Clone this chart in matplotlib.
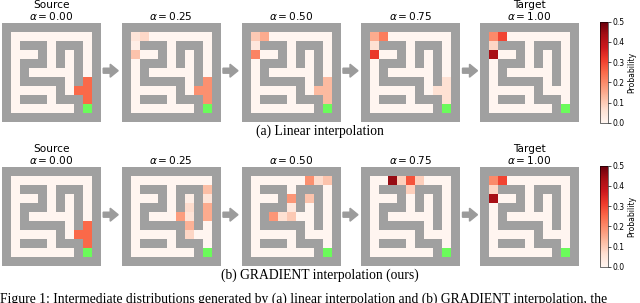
import numpy as np
import matplotlib
matplotlib.use('Agg')
from matplotlib import pyplot as plt
from matplotlib.colors import Normalize, to_rgb
from matplotlib.patches import Polygon
import matplotlib.cm as cm

# maze layout, '#' wall, '.' open, 'G' goal
maze = [
    "###########",
    "#.........#",
    "#.###.###.#",
    "#...#.#.#.#",
    "#.###.#.#.#",
    "#.#.....#.#",
    "#.#####.#.#",
    "#.....#...#",
    "#.###.###.#",
    "#.......#G#",
    "###########",
]

alphas = ['0.00', '0.25', '0.50', '0.75', '1.00']
heads = ['Source', '', '', '', 'Target']

# probability per panel: (row, col, prob)
source = [(6, 9, 0.25), (7, 8, 0.25), (7, 9, 0.25), (8, 9, 0.25)]
target = [(1, 1, 0.20), (1, 2, 0.30), (2, 1, 0.08), (3, 1, 0.43)]

linear_25 = [(6, 9, 0.19), (7, 8, 0.19), (7, 9, 0.19), (8, 9, 0.19),
             (1, 1, 0.05), (1, 2, 0.075), (2, 1, 0.02), (3, 1, 0.11)]
linear_50 = [(6, 9, 0.125), (7, 8, 0.125), (7, 9, 0.125), (8, 9, 0.125),
             (1, 1, 0.10), (1, 2, 0.15), (2, 1, 0.04), (3, 1, 0.21)]
linear_75 = [(6, 9, 0.06), (7, 8, 0.06), (7, 9, 0.06), (8, 9, 0.06),
             (1, 1, 0.15), (1, 2, 0.22), (2, 1, 0.06), (3, 1, 0.32)]

grad_25 = [(2, 9, 0.12), (3, 9, 0.05), (4, 9, 0.15), (5, 9, 0.15),
           (3, 7, 0.02), (4, 7, 0.07), (5, 6, 0.17), (5, 7, 0.05),
           (6, 7, 0.14), (7, 7, 0.08)]
grad_50 = [(1, 7, 0.19), (1, 8, 0.07), (1, 9, 0.11), (3, 7, 0.11),
           (3, 5, 0.18), (4, 5, 0.04), (5, 3, 0.18), (5, 4, 0.06),
           (5, 5, 0.10)]
grad_75 = [(1, 3, 0.45), (1, 4, 0.09), (1, 5, 0.28), (1, 6, 0.09),
           (2, 5, 0.09)]

rows = [
    [source, linear_25, linear_50, linear_75, target],
    [source, grad_25, grad_50, grad_75, target],
]
captions = ['(a) Linear interpolation', '(b) GRADIENT interpolation (ours)']
footer = ('Figure 1: Intermediate distributions generated by (a) linear interpolation '
          'and (b) GRADIENT interpolation, the')

W, H = 640, 303
cmap = plt.get_cmap('Reds')
norm = Normalize(0, 0.5)
wall = to_rgb('#a0a0a0')
goal = to_rgb('#6bfb5b')


def maze_img(probs):
    n = len(maze)
    img = np.zeros((n, n, 3))
    for r in range(n):
        for c in range(n):
            ch = maze[r][c]
            if ch == '#':
                img[r, c] = wall
            elif ch == 'G':
                img[r, c] = goal
            else:
                img[r, c] = cmap(norm(0))[:3]
    for r, c, p in probs:
        img[r, c] = cmap(norm(p))[:3]
    return img


def px_axes(x, y, w, h):
    return fig.add_axes([x / W, 1 - (y + h) / H, w / W, h / H])


def px_text(x, y, s, **kw):
    return fig.text(x / W, 1 - y / H, s, **kw)


def arrow(x0, yc):
    # block arrow in pixel coords
    pts = [(x0, yc - 2.5), (x0 + 7, yc - 2.5), (x0 + 7, yc - 6.5), (x0 + 15, yc),
           (x0 + 7, yc + 6.5), (x0 + 7, yc + 2.5), (x0, yc + 2.5)]
    pts = [(px / 100, (H - py) / 100) for px, py in pts]
    fig.patches.append(Polygon(pts, closed=True, color='#9b9b9b',
                               transform=fig.dpi_scale_trans, figure=fig))


fig = plt.figure(figsize=(W / 100, H / 100), dpi=100)

maze_x = [1.7, 121.5, 241.5, 361.0, 479.5]
maze_y = [22.7, 166.7]
size = 99

for i, panels in enumerate(rows):
    for j, probs in enumerate(panels):
        ax = px_axes(maze_x[j], maze_y[i], size, size)
        ax.imshow(maze_img(probs), interpolation='nearest')
        ax.set_axis_off()
        xc = maze_x[j] + size / 2
        px_text(xc, maze_y[i] - 7, r'$\alpha = ' + alphas[j] + '$',
                fontsize=7.6, ha='center', va='center')
        if heads[j]:
            px_text(xc, maze_y[i] - 17.5, heads[j], fontsize=7.6,
                    ha='center', va='center')
        if j < 4:
            arrow(maze_x[j] + size + 2.5, maze_y[i] + 48)

    cax = px_axes(599.5, maze_y[i] - 1, 8.5, size + 2)
    cb = fig.colorbar(cm.ScalarMappable(norm=norm, cmap=cmap), cax=cax)
    cb.set_ticks([0.0, 0.1, 0.2, 0.3, 0.4, 0.5])
    cb.ax.tick_params(labelsize=5.5, length=2, width=0.5, pad=1)
    cb.outline.set_linewidth(0.4)
    cb.set_label('Probability', fontsize=5.5, labelpad=2)

    px_text(W / 2, maze_y[i] + size + 10, captions[i],
            family='Liberation Serif', fontsize=9.8, ha='center', va='center')

px_text(0, 299, footer, family='Liberation Serif', fontsize=9.8,
        ha='left', va='center')

fig.savefig('out.png', dpi=100)
